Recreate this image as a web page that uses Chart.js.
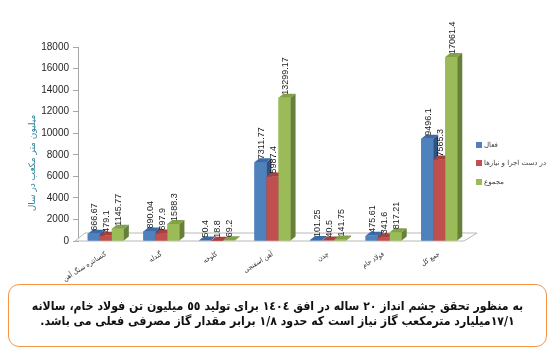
<!DOCTYPE html>
<html>
<head>
<meta charset="utf-8">
<script src="https://cdn.jsdelivr.net/npm/chart.js@4.4.1/dist/chart.umd.min.js"></script>
<style>
html,body{margin:0;padding:0;background:#fff;}
#wrap{position:relative;width:560px;height:354px;overflow:hidden;}
#cw{position:absolute;left:0;top:0;width:560px;height:286px;}
#note{position:absolute;left:8px;top:284px;width:537px;height:61px;border:1.6px solid #f79646;border-radius:11px;
  direction:rtl;text-align:center;font-family:"DejaVu Sans Condensed","DejaVu Sans";font-weight:bold;font-size:12.2px;line-height:15px;color:#111;
  white-space:nowrap;}
#note div{padding-top:14px;}
</style>
</head>
<body>
<div id="wrap">
<div id="cw"><canvas id="c" width="560" height="286"></canvas></div>
<div id="note"><div>به منظور تحقق چشم  انداز ٢٠ ساله در افق ١٤٠٤ برای تولید ٥٥ میلیون تن فولاد خام، سالانه<br>١٧/١میلیارد مترمکعب گاز نیاز است که حدود ١/٨ برابر مقدار گاز مصرفی فعلی می باشد.</div></div>
</div>
<script>
const categories = ["کنسانتره سنگ آهن", "گندله", "کلوخه", "آهن اسفنجی", "چدن", "فولاد خام", "جمع کل"];
const seriesNames = ["فعال", "در دست اجرا و نیازها", "مجموع"];
const activeValues = [666.67, 890.04, 50.4, 7311.77, 101.25, 475.61, 9496.1];
const plannedValues = [479.1, 697.9, 18.8, 5987.4, 40.5, 341.6, 7565.3];
const totalValues = [1145.77, 1588.3, 69.2, 13299.17, 141.75, 817.21, 17061.4];
const yTicks = [0, 2000, 4000, 6000, 8000, 10000, 12000, 14000, 16000, 18000];
const yTitle = "میلیون متر مکعب در سال";

const fronts = ["#4F81BD", "#C0504D", "#9BBB59"];
const tops = ["#3B6AA6", "#A8403D", "#82A246"];
const sides = ["#2F5283", "#873532", "#66803A"];
const DX = 5, DY = -4;

const bar3d = {
  id: 'bar3d',
  beforeDatasetsDraw(chart) {
    const ctx = chart.ctx, a = chart.chartArea;
    ctx.save();
    ctx.beginPath();
    ctx.moveTo(a.left - 3, a.bottom);
    ctx.lineTo(a.right - 3, a.bottom);
    ctx.lineTo(a.right + 10, a.bottom - 8);
    ctx.lineTo(a.left + 7, a.bottom - 8);
    ctx.closePath();
    ctx.fillStyle = "#ffffff";
    ctx.fill();
    ctx.strokeStyle = "#b8b8b8";
    ctx.lineWidth = 1;
    ctx.stroke();
    ctx.restore();
  },
  afterDatasetsDraw(chart) {
    const ctx = chart.ctx;
    ctx.save();
    const metas = [0, 1, 2].map(i => chart.getDatasetMeta(i));
    for (let c = 0; c < categories.length; c++) {
      for (let d = 0; d < 3; d++) {
        const el = metas[d].data[c];
        const p = el.getProps(['x', 'y', 'base', 'width'], true);
        const l = p.x - p.width / 2, r = p.x + p.width / 2;
        ctx.fillStyle = fronts[d];
        ctx.fillRect(l, p.y, p.width, p.base - p.y);
        ctx.fillStyle = tops[d];
        ctx.beginPath();
        ctx.moveTo(l, p.y); ctx.lineTo(r, p.y); ctx.lineTo(r + DX, p.y + DY); ctx.lineTo(l + DX, p.y + DY);
        ctx.closePath(); ctx.fill();
        ctx.fillStyle = sides[d];
        ctx.beginPath();
        ctx.moveTo(r, p.y); ctx.lineTo(r + DX, p.y + DY); ctx.lineTo(r + DX, p.base + DY); ctx.lineTo(r, p.base);
        ctx.closePath(); ctx.fill();
      }
    }
    ctx.fillStyle = "#1a1a1a";
    ctx.font = "9px 'Liberation Sans'";
    ctx.textAlign = "left";
    ctx.textBaseline = "middle";
    for (let d = 0; d < 3; d++) {
      const vals = chart.data.datasets[d].data;
      metas[d].data.forEach((el, i) => {
        const p = el.getProps(['x', 'y'], true);
        ctx.save();
        ctx.translate(p.x + 1, p.y - 3);
        ctx.rotate(-Math.PI / 2);
        ctx.fillText(String(vals[i]), 0, 0);
        ctx.restore();
      });
    }
    ctx.restore();
  },
  afterDraw(chart) {
    const ctx = chart.ctx;
    ctx.save();
    const ly = [145, 163, 182];
    ctx.font = "7px 'DejaVu Sans'";
    ctx.textBaseline = "middle";
    ctx.textAlign = "left";
    for (let d = 0; d < 3; d++) {
      ctx.fillStyle = fronts[d];
      ctx.fillRect(476, ly[d] - 3, 6, 6);
      ctx.fillStyle = "#404040";
      ctx.fillText(chart.data.datasets[d].label, 484, ly[d]);
    }
    ctx.translate(33, 163);
    ctx.rotate(-Math.PI / 2);
    ctx.font = "9px 'DejaVu Sans'";
    ctx.fillStyle = "#31849B";
    ctx.textAlign = "center";
    ctx.fillText(yTitle, 0, 0);
    ctx.restore();
  }
};

new Chart(document.getElementById('c'), {
  type: 'bar',
  data: {
    labels: categories,
    datasets: [
      { label: seriesNames[0], data: activeValues, backgroundColor: fronts[0] },
      { label: seriesNames[1], data: plannedValues, backgroundColor: fronts[1] },
      { label: seriesNames[2], data: totalValues, backgroundColor: fronts[2] }
    ]
  },
  options: {
    responsive: false,
    animation: false,
    devicePixelRatio: 1,
    layout: { padding: { left: 0, top: 47, right: 93, bottom: 0 } },
    datasets: { bar: { categoryPercentage: 0.65, barPercentage: 1.0 } },
    plugins: { legend: { display: false }, tooltip: { enabled: false } },
    scales: {
      x: {
        grid: { display: false },
        border: { display: false },
        ticks: {
          minRotation: 32, maxRotation: 32, padding: 1,
          color: "#333", font: { family: "DejaVu Sans Condensed", size: 7 }
        },
        afterFit(s) { s.height = 45; }
      },
      y: {
        min: 0, max: 18000,
        afterBuildTicks(s) { s.ticks = yTicks.map(v => ({ value: v })); },
        grid: { drawOnChartArea: false, drawTicks: true, tickLength: 5, color: "#a6a6a6" },
        border: { display: true, color: "#a6a6a6" },
        ticks: { padding: 4, color: "#262626", font: { family: "Liberation Sans", size: 10 },
          callback: v => String(v) },
        afterFit(s) { s.width = 78; }
      }
    }
  },
  plugins: [bar3d]
});
</script>
</body>
</html>
